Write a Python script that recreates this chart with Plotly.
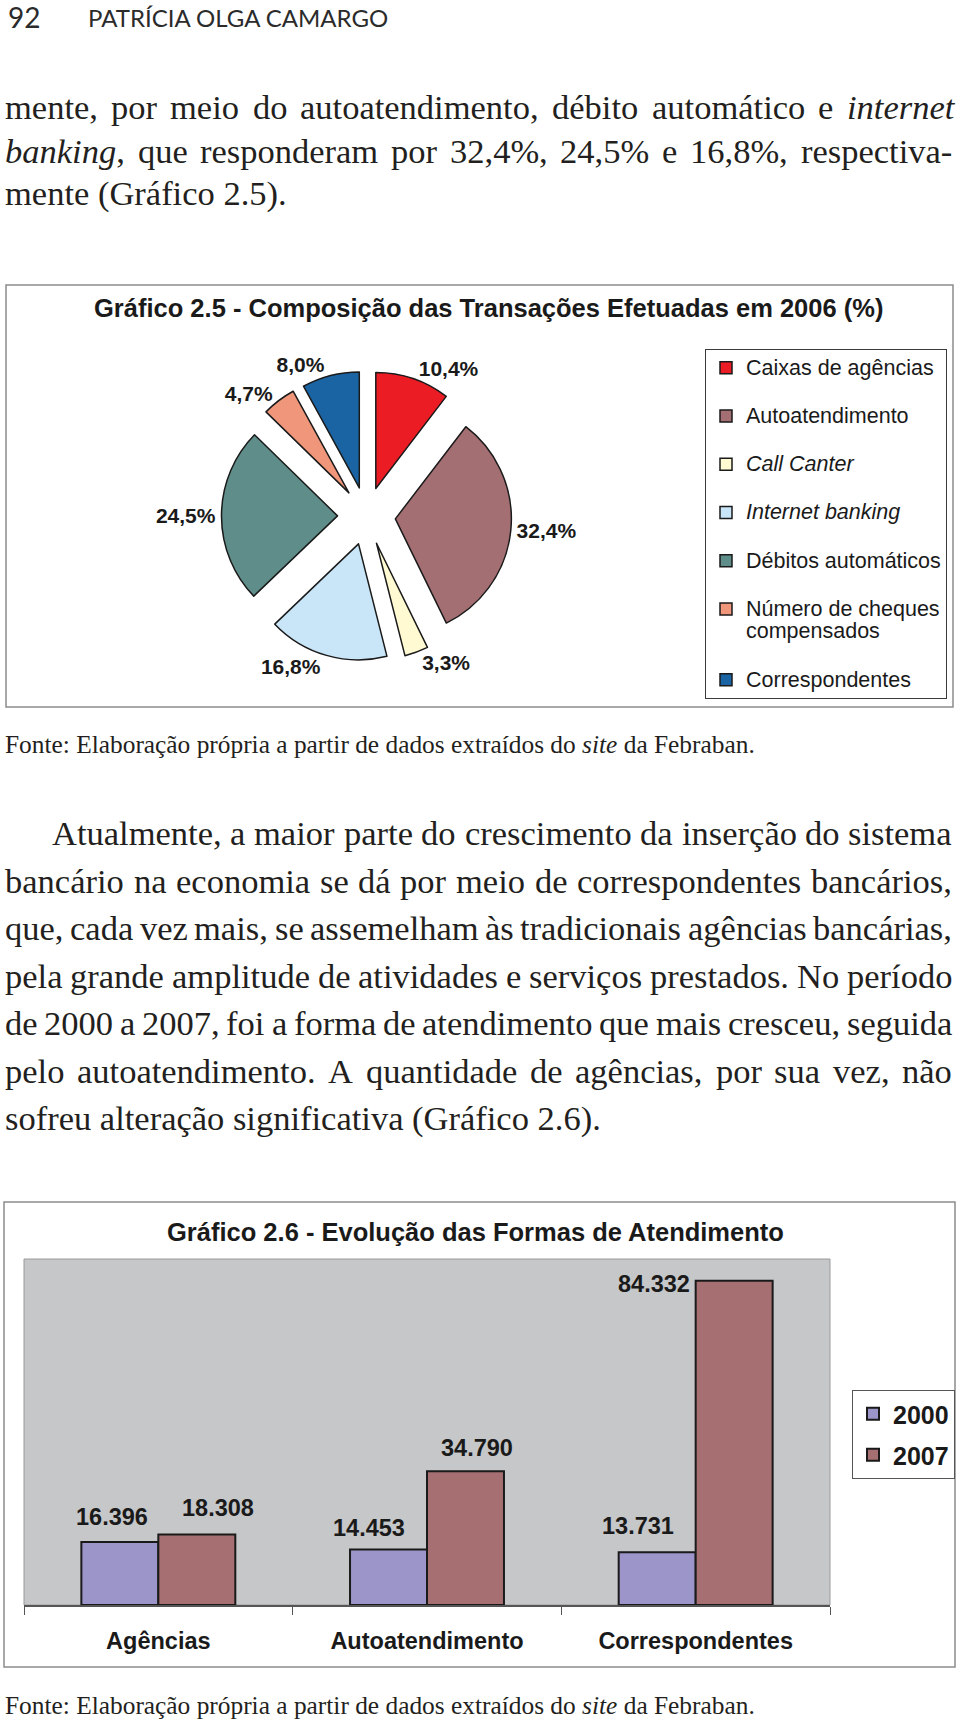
import unicodedata
import plotly.graph_objects as go

W, H = 960, 1720

# ---------------- data ----------------
header_page = "92"
header_author = "PATRÍCIA OLGA CAMARGO"

para1_lines = [
    "mente, por meio do autoatendimento, débito automático e <i>internet</i>",
    "<i>banking</i>, que responderam por 32,4%, 24,5% e 16,8%, respectiva-",
    "mente (Gráfico 2.5).",
]
para2_lines = [
    "Atualmente, a maior parte do crescimento da inserção do sistema",
    "bancário na economia se dá por meio de correspondentes bancários,",
    "que, cada vez mais, se assemelham às tradicionais agências bancárias,",
    "pela grande amplitude de atividades e serviços prestados. No período",
    "de 2000 a 2007, foi a forma de atendimento que mais cresceu, seguida",
    "pelo autoatendimento. A quantidade de agências, por sua vez, não",
    "sofreu alteração significativa (Gráfico 2.6).",
]
source_text = "Fonte: Elaboração própria a partir de dados extraídos do <i>site</i> da Febraban."

pie_title = "Gráfico 2.5 - Composição das Transações Efetuadas em 2006 (%)"
pie_labels = ["Caixas de agências", "Autoatendimento", "<i>Call Canter</i>",
              "<i>Internet banking</i>", "Débitos automáticos",
              "Número de cheques<br>compensados", "Correspondentes"]
pie_values = [10.4, 32.4, 3.3, 16.8, 24.5, 4.7, 8.0]
pie_colors = ["#EC1C24", "#A46F73", "#FFFAD2", "#C8E6F8", "#5F8E8A", "#F0977B", "#1B64A3"]

bar_title = "Gráfico 2.6 - Evolução das Formas de Atendimento"
bar_categories = ["Agências", "Autoatendimento", "Correspondentes"]
bar_series = ["2000", "2007"]
bar_2000 = [16396, 14453, 13731]
bar_2007 = [18308, 34790, 84332]
bar_colors = ["#9B95C9", "#A67073"]

# ---------------- helpers ----------------
SANS = "Liberation Sans, Arial, sans-serif"
SERIF = "Liberation Serif, Times New Roman, serif"
TEXT_COLOR = "#231f20"


def px(x):
    return x / W


def py(y):
    return 1 - y / H


TIMES = {}
for ch, w in zip("ABCDEFGHIJKLMNOPQRSTUVWXYZ",
                 [722, 667, 667, 722, 611, 556, 722, 722, 333, 389, 722, 611, 889,
                  722, 722, 556, 722, 667, 556, 611, 722, 722, 944, 722, 722, 611]):
    TIMES[ch] = w
for ch, w in zip("abcdefghijklmnopqrstuvwxyz",
                 [444, 500, 444, 500, 444, 333, 500, 500, 278, 278, 500, 278, 778,
                  500, 500, 500, 500, 333, 389, 278, 500, 500, 722, 500, 500, 444]):
    TIMES[ch] = w
for ch in "0123456789":
    TIMES[ch] = 500
TIMES.update({" ": 250, ",": 250, ".": 250, "%": 833, "(": 333, ")": 333, "-": 333, ":": 278})


def plain(s):
    return s.replace("<i>", "").replace("</i>", "")


def width_em(s):
    return sum(TIMES.get(unicodedata.normalize("NFD", c)[0], 500) for c in plain(s)) / 1000


annotations = []


def text_ann(text, x, y, size, family=SERIF, color=TEXT_COLOR, xanchor="left", bold=False):
    font = dict(family=family, size=size, color=color)
    if bold:
        font["weight"] = "bold"
    annotations.append(dict(text=text, x=px(x), y=py(y), xref="paper", yref="paper",
                            xanchor=xanchor, yanchor="middle", showarrow=False,
                            font=font, borderpad=0, borderwidth=0))


BODY = 34.5
LEFT, RIGHT = 5, 952


def body_line(text, x0, yc, justify):
    yc = yc - 0.105 * BODY
    if not justify:
        text_ann(text, x0, yc, BODY)
        return
    words = text.split(" ")
    ws = [width_em(w) * BODY for w in words]
    gap = (RIGHT - x0 - sum(ws)) / (len(words) - 1)
    x = x0
    for w, wd in zip(words, ws):
        text_ann(w, x, yc, BODY)
        x += wd + gap


# header
text_ann(header_page, 8, 17, 28, family="Lato", color="#2b2b2b")
text_ann(header_author, 88, 18, 24, family="Lato", color="#2b2b2b")

# paragraph 1
p1_y = [110.5, 154.5, 197]
for i, (line, yc) in enumerate(zip(para1_lines, p1_y)):
    body_line(line, LEFT, yc, i < len(para1_lines) - 1)

# paragraph 2
p2_y = [837 + 47.5 * k for k in range(len(para2_lines))]
for i, (line, yc) in enumerate(zip(para2_lines, p2_y)):
    body_line(line, 52 if i == 0 else LEFT, yc, i < len(para2_lines) - 1)

# sources
SRC = 750 / width_em(source_text)
text_ann(source_text, 5, 744, SRC)
text_ann(source_text, 5, 1705, SRC)

# chart titles
text_ann("<b>" + pie_title + "</b>", 488.5, 308, 25.5, family=SANS, color="#1a1a1a", xanchor="center")
text_ann("<b>" + bar_title + "</b>", 475.5, 1232, 25.5, family=SANS, color="#1a1a1a", xanchor="center")

# bar value labels (offsets in px relative to bar top / category centre)
dx = {"2000": [-46, -58, -58], "2007": [60, 50, -42]}
dy = {"2000": [25, 21, 26], "2007": [27, 23, -3]}
for s, vals in zip(bar_series, [bar_2000, bar_2007]):
    for j, (cat, v) in enumerate(zip(bar_categories, vals)):
        annotations.append(dict(text="<b>" + f"{v:,}".replace(",", ".") + "</b>",
                                x=cat, y=v, xref="x", yref="y", xanchor="center",
                                yanchor="middle", xshift=dx[s][j], yshift=dy[s][j],
                                showarrow=False, borderpad=0, borderwidth=0,
                                font=dict(family=SANS, size=23.5, color="#1a1a1a")))

# ---------------- figure ----------------
fig = go.Figure()

legend_labels = []
for k, lab in enumerate(pie_labels):
    t = "<span style='font-size:21.5px'>" + lab + "</span>"
    if k < len(pie_labels) - 1:
        t += "<br> "
    legend_labels.append(t)

fig.add_trace(go.Pie(
    labels=legend_labels, values=pie_values, sort=False, direction="clockwise", rotation=0,
    pull=0.25,
    marker=dict(colors=pie_colors, line=dict(color="#1a1a1a", width=1.5)),
    textposition="outside", texttemplate="<b>%{value:.1f}%</b>",
    textfont=dict(family=SANS, size=21, color="#1a1a1a"),
    domain=dict(x=[px(221.5), px(511.5)], y=[py(661), py(371)]),
    hoverinfo="skip", legend="legend", showlegend=True,
))

for s, vals, col in zip(bar_series, [bar_2000, bar_2007], bar_colors):
    fig.add_trace(go.Bar(
        x=bar_categories, y=vals, name=s, legendgroup=s, legend="legend2",
        marker=dict(color=col, line=dict(color="#1a1a1a", width=2)),
        hoverinfo="skip",
    ))

shapes = [
    dict(type="rect", xref="paper", yref="paper", x0=px(6), x1=px(953), y0=py(707), y1=py(285),
         line=dict(color="#8c8c8c", width=1.5), fillcolor="rgba(0,0,0,0)", layer="below"),
    dict(type="rect", xref="paper", yref="paper", x0=px(4), x1=px(955), y0=py(1667), y1=py(1202),
         line=dict(color="#8c8c8c", width=1.5), fillcolor="rgba(0,0,0,0)", layer="below"),
    dict(type="rect", xref="paper", yref="paper", x0=px(24), x1=px(830), y0=py(1605), y1=py(1259),
         line=dict(color="#9a9a9a", width=1), fillcolor="rgba(0,0,0,0)", layer="below"),
]

fig.update_layout(
    width=W, height=H, margin=dict(l=0, r=0, t=0, b=0),
    paper_bgcolor="white", plot_bgcolor="#c6c7c9",
    separators=",.", barmode="group", bargap=0.427, bargroupgap=0,
    xaxis=dict(domain=[px(24), px(830)], showline=True, linecolor="#555", linewidth=1.5,
               ticks="outside", tickson="boundaries", ticklen=8, tickcolor="#555", tickwidth=1.2,
               tickfont=dict(family=SANS, size=23.5, color="#1a1a1a", weight="bold"),
               ticklabelstandoff=14, showgrid=False, zeroline=False, fixedrange=True),
    yaxis=dict(domain=[py(1605), py(1259)], range=[0, 90000], visible=False, fixedrange=True),
    legend=dict(x=px(705), y=py(349), xanchor="left", yanchor="top", bgcolor="white",
                bordercolor="#3a3a3a", borderwidth=1, valign="top", traceorder="normal",
                font=dict(family=SANS, size=17.4, color="#1a1a1a")),
    legend2=dict(x=px(852), y=py(1390), xanchor="left", yanchor="top", bgcolor="white",
                 bordercolor="#555", borderwidth=1, traceorder="grouped", tracegroupgap=5.5,
                 font=dict(family=SANS, size=25, color="#1a1a1a", weight="bold")),
    shapes=shapes, annotations=annotations,
)

fig.write_html("out.html", config={"displayModeBar": False},
               post_script="document.body.style.margin='0px';")
